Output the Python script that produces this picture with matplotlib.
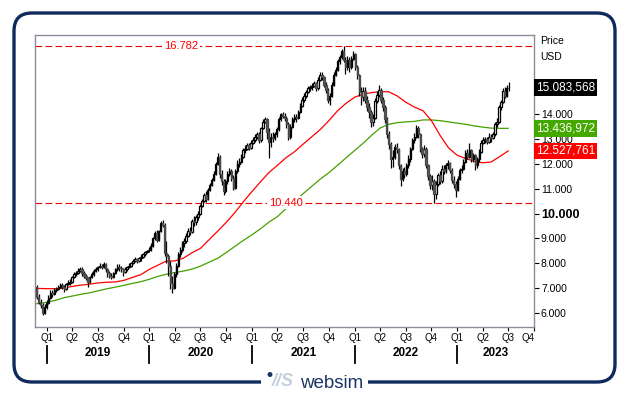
import matplotlib
matplotlib.use('Agg')
import matplotlib.pyplot as plt
import matplotlib.dates as mdates
import matplotlib.patches as patches
import matplotlib.transforms as mtransforms
import numpy as np
import pandas as pd

plt.rcParams['font.family'] = ['Liberation Sans', 'DejaVu Sans']

# weekly candles, open = previous close
first_week = '2018-11-26'
first_open = 7.05
closes = [
    6.65, 6.45, 6.30, 6.00, 6.25, 6.40, 6.60, 6.80, 6.75, 6.90, 6.95, 7.05, 7.10,
    7.05, 6.95, 7.15, 7.20, 7.25, 7.45, 7.55, 7.60, 7.70, 7.75, 7.60, 7.50, 7.40,
    7.25, 7.45, 7.55, 7.70, 7.75, 7.85, 7.90, 7.85, 7.95, 7.75, 7.60, 7.50, 7.45,
    7.60, 7.75, 7.85, 7.80, 7.75, 7.65, 7.75, 7.85, 7.90, 8.00, 8.10, 8.15, 8.10,
    8.20, 8.25, 8.35, 8.45, 8.50, 8.55, 8.70, 9.00, 9.20, 8.95, 9.30, 9.60, 9.55,
    8.40, 8.30, 7.90, 7.20, 7.00, 7.55, 7.90, 8.35, 8.55, 8.80, 8.90, 9.10, 9.30,
    9.25, 9.70, 9.65, 9.85, 10.00, 10.30, 10.50, 10.75, 10.60, 10.95, 11.15, 11.35, 11.60,
    12.00, 12.30, 11.60, 11.30, 10.90, 11.30, 11.60, 11.70, 11.45, 11.05, 11.70, 12.00, 12.10,
    12.30, 12.55, 12.60, 12.75, 12.65, 12.85, 12.95, 13.10, 13.20, 12.95, 13.45, 13.70, 13.80,
    13.30, 12.90, 13.10, 13.05, 13.20, 13.40, 13.80, 14.00, 13.95, 13.85, 13.60, 13.10, 13.50,
    13.80, 13.90, 13.85, 14.10, 14.35, 14.60, 14.75, 14.90, 15.05, 15.10, 15.15, 15.25, 15.05,
    15.40, 15.60, 15.50, 15.20, 15.00, 14.60, 14.75, 15.20, 15.60, 15.80, 16.15, 16.30, 16.55,
    16.20, 15.90, 16.20, 15.90, 16.25, 16.45, 15.90, 15.60, 14.90, 14.70, 14.95, 14.60, 14.30,
    14.10, 13.70, 13.85, 14.55, 14.80, 15.00, 14.60, 14.30, 13.80, 13.20, 12.80, 12.20, 12.30,
    12.70, 12.60, 11.95, 11.40, 11.70, 11.60, 11.95, 12.20, 12.60, 12.95, 13.10, 13.45, 13.20,
    12.60, 12.40, 12.60, 11.95, 11.50, 11.15, 11.30, 10.80, 11.20, 11.55, 11.30, 11.80, 11.70,
    11.95, 12.05, 11.75, 11.35, 11.20, 10.95, 11.40, 11.75, 11.80, 12.10, 12.45, 12.30, 12.55,
    12.20, 12.35, 11.95, 12.20, 12.50, 12.85, 12.95, 13.00, 12.90, 13.10, 13.05, 13.20, 13.60,
    13.70, 14.30, 14.50, 14.95, 14.75, 15.05, 15.08,
]
highs = [
    7.10, 6.75, 6.55, 6.40, 6.35, 6.50, 6.70, 6.90, 6.90, 7.00, 7.05, 7.10, 7.20,
    7.20, 7.10, 7.20, 7.30, 7.35, 7.50, 7.65, 7.70, 7.80, 7.85, 7.85, 7.70, 7.55,
    7.45, 7.50, 7.65, 7.75, 7.85, 7.90, 8.00, 7.95, 8.05, 8.00, 7.80, 7.70, 7.60,
    7.65, 7.80, 7.95, 7.95, 7.90, 7.80, 7.85, 7.90, 8.00, 8.05, 8.15, 8.25, 8.20,
    8.25, 8.35, 8.40, 8.50, 8.55, 8.65, 8.80, 9.05, 9.30, 9.35, 9.35, 9.70, 9.75,
    9.60, 8.90, 8.35, 8.10, 7.50, 7.65, 8.00, 8.45, 8.65, 8.90, 9.00, 9.20, 9.40,
    9.45, 9.80, 9.90, 9.95, 10.10, 10.40, 10.60, 10.85, 10.90, 11.05, 11.25, 11.45, 11.70,
    12.10, 12.43, 12.35, 11.75, 11.40, 11.40, 11.70, 11.85, 11.80, 11.55, 11.80, 12.15, 12.25,
    12.40, 12.65, 12.75, 12.85, 12.85, 12.95, 13.10, 13.20, 13.30, 13.30, 13.50, 13.80, 13.90,
    13.85, 13.45, 13.25, 13.30, 13.30, 13.50, 13.90, 14.05, 14.10, 14.05, 13.95, 13.70, 13.60,
    13.90, 14.00, 14.00, 14.20, 14.45, 14.70, 14.85, 15.00, 15.15, 15.20, 15.25, 15.35, 15.30,
    15.50, 15.70, 15.70, 15.55, 15.30, 15.05, 14.85, 15.30, 15.70, 15.90, 16.25, 16.40, 16.65,
    16.78, 16.30, 16.35, 16.30, 16.35, 16.55, 16.50, 16.00, 15.65, 15.10, 15.10, 15.10, 14.75,
    14.45, 14.20, 14.00, 14.65, 14.95, 15.20, 15.05, 14.70, 14.40, 13.90, 13.35, 12.90, 12.55,
    12.80, 12.85, 12.65, 12.00, 11.85, 11.90, 12.05, 12.35, 12.70, 13.05, 13.25, 13.57, 13.55,
    13.25, 12.70, 12.75, 12.70, 12.00, 11.60, 11.55, 11.40, 11.30, 11.65, 11.70, 11.95, 11.95,
    12.05, 12.15, 12.10, 11.85, 11.50, 11.30, 11.50, 11.85, 11.95, 12.20, 12.55, 12.60, 12.85,
    12.60, 12.45, 12.40, 12.30, 12.60, 12.95, 13.10, 13.10, 13.10, 13.25, 13.20, 13.30, 13.70,
    13.85, 14.40, 14.60, 15.05, 15.10, 15.20, 15.30,
]
lows = [
    6.55, 6.35, 6.20, 5.90, 5.95, 6.15, 6.35, 6.55, 6.65, 6.70, 6.85, 6.90, 7.00,
    6.95, 6.85, 6.90, 7.10, 7.10, 7.20, 7.40, 7.50, 7.55, 7.65, 7.50, 7.40, 7.30,
    7.05, 7.20, 7.40, 7.50, 7.65, 7.70, 7.80, 7.75, 7.80, 7.65, 7.45, 7.40, 7.35,
    7.40, 7.55, 7.70, 7.70, 7.65, 7.50, 7.60, 7.70, 7.80, 7.85, 7.95, 8.05, 8.00,
    8.05, 8.10, 8.20, 8.30, 8.40, 8.45, 8.50, 8.65, 8.95, 8.85, 8.90, 9.25, 9.45,
    8.30, 8.00, 7.50, 6.95, 6.78, 6.95, 7.45, 7.85, 8.25, 8.45, 8.65, 8.80, 9.05,
    9.15, 9.20, 9.50, 9.55, 9.75, 9.95, 10.25, 10.45, 10.45, 10.55, 10.90, 11.10, 11.30,
    11.55, 11.95, 11.45, 11.15, 10.75, 10.85, 11.20, 11.50, 11.30, 10.95, 11.00, 11.65, 11.90,
    12.05, 12.25, 12.45, 12.55, 12.55, 12.60, 12.80, 12.90, 13.00, 12.85, 12.90, 13.40, 13.65,
    13.00, 12.24, 12.70, 12.90, 12.95, 13.10, 13.35, 13.75, 13.85, 13.75, 13.45, 12.97, 13.00,
    13.45, 13.70, 13.70, 13.80, 14.05, 14.30, 14.50, 14.65, 14.85, 14.95, 15.00, 15.10, 14.95,
    15.00, 15.35, 15.40, 15.10, 14.85, 14.45, 14.38, 14.70, 15.15, 15.55, 15.75, 16.05, 16.25,
    16.10, 15.65, 15.80, 15.70, 15.85, 16.20, 15.80, 15.45, 14.75, 14.40, 14.55, 14.45, 14.15,
    13.85, 13.50, 13.55, 13.80, 14.45, 14.70, 14.45, 14.15, 13.65, 13.05, 12.60, 11.85, 11.90,
    12.20, 12.45, 11.80, 11.10, 11.30, 11.45, 11.50, 11.85, 12.10, 12.55, 12.85, 13.05, 13.05,
    12.50, 12.25, 12.30, 11.85, 11.35, 11.00, 10.95, 10.44, 10.60, 11.10, 11.20, 11.25, 11.60,
    11.65, 11.80, 11.65, 11.25, 11.05, 10.67, 10.90, 11.35, 11.65, 11.75, 12.05, 12.20, 12.25,
    12.10, 12.10, 11.76, 11.85, 12.10, 12.45, 12.80, 12.85, 12.80, 12.85, 12.90, 13.00, 13.15,
    13.50, 13.65, 14.20, 14.45, 14.65, 14.70, 14.95,
]

# moving averages read at month starts
ma_start = '2018-11-01'
ma_red = [
    6.98, 6.98, 6.97, 6.97, 6.99, 7.06, 7.11, 7.15, 7.20, 7.23, 7.24, 7.30, 7.42, 7.53,
    7.75, 7.92, 8.08, 8.09, 8.20, 8.42, 8.60, 8.95, 9.30, 9.65, 10.05, 10.48,
    10.90, 11.30, 11.65, 11.95, 12.25, 12.50, 12.80, 13.10, 13.40, 13.75, 14.15, 14.45,
    14.70, 14.82, 14.88, 14.92, 14.92, 14.75, 14.50, 14.30, 14.15, 13.75, 13.15, 12.65,
    12.35, 12.22, 12.12, 12.05, 12.08, 12.30, 12.53,
]
ma_green = [
    6.33, 6.37, 6.42, 6.50, 6.60, 6.67, 6.74, 6.80, 6.88, 6.96, 7.03, 7.10, 7.18, 7.25,
    7.35, 7.47, 7.55, 7.62, 7.68, 7.76, 7.88, 8.04, 8.20, 8.43, 8.68, 8.92,
    9.15, 9.40, 9.65, 9.88, 10.20, 10.50, 10.80, 11.10, 11.40, 11.65, 11.95, 12.25,
    12.55, 12.85, 13.15, 13.45, 13.60, 13.67, 13.70, 13.72, 13.78, 13.78, 13.75, 13.70,
    13.65, 13.60, 13.54, 13.49, 13.45, 13.44, 13.44,
]

max_level = 16.782
min_level = 10.440
last_price = 15.083568
last_red = 12.527761
last_green = 13.436972
y_ticks = [6, 7, 8, 9, 10, 11, 12, 13, 14]
years = [2019, 2020, 2021, 2022, 2023]

W, H = 629, 395
fig = plt.figure(figsize=(W / 100, H / 100), dpi=100)
fig.patch.set_facecolor('white')

def fx(x):
    return x / W

def fy(y):
    return 1 - y / H

ax = fig.add_axes([fx(35), fy(327), fx(534) - fx(35), fy(35) - fy(327)])

dates = mdates.date2num(pd.date_range(first_week, periods=len(closes), freq='7D'))
c = np.array(closes)
o = np.concatenate([[first_open], c[:-1]])
hi = np.maximum(np.array(highs), np.maximum(o, c))
lo = np.minimum(np.array(lows), np.minimum(o, c))
up = c >= o

ma_dates = mdates.date2num(pd.date_range(ma_start, periods=len(ma_red), freq='MS'))
ax.plot(ma_dates, ma_green, color='#44a000', lw=0.9, zorder=1.5)
ax.plot(ma_dates, ma_red, color='#ff0000', lw=0.9, zorder=1.6)

ax.vlines(dates, lo, hi, color='black', lw=0.9, zorder=2)
body_w = 5.0
ax.bar(dates[up], (c - o)[up], bottom=o[up], width=body_w, color='white',
       edgecolor='black', linewidth=0.9, zorder=3)
ax.bar(dates[~up], (o - c)[~up], bottom=c[~up], width=body_w, color='#5a5a5a',
       edgecolor='#4a4a4a', linewidth=0.9, zorder=3)

for lvl, lbl_date in [(max_level, '2020-04-22'), (min_level, '2021-05-01')]:
    ax.axhline(lvl, color='#e60000', lw=0.8, dashes=(6, 3), zorder=1)
    ax.text(mdates.date2num(pd.Timestamp(lbl_date)), lvl, f'{lvl:.3f}', color='#ff0000',
            fontsize=8, ha='center', va='center', zorder=4,
            bbox=dict(boxstyle='square,pad=0.15', fc='white', ec='none'))

x_left = mdates.date2num(pd.Timestamp('2018-11-20'))
x_right = mdates.date2num(pd.Timestamp('2023-10-01'))
ax.set_xlim(x_left, x_right)
ax.set_ylim(5.423, 17.207)

for s in ax.spines.values():
    s.set_color('#8c8c9a')
    s.set_linewidth(1.0)

# right price axis
ax.yaxis.tick_right()
ax.set_yticks(y_ticks)
ax.set_yticklabels([f'{v}.000' for v in y_ticks])
ax.tick_params(axis='y', length=3.5, width=0.8, pad=1.5, labelsize=7.5, colors='black')
for t in ax.get_yticklabels():
    if t.get_text() == '10.000':
        t.set_fontweight('bold')
        t.set_fontsize(9)

# quarter ticks
q_dates = pd.date_range('2019-01-01', '2023-10-01', freq='QS')
ax.set_xticks(mdates.date2num(q_dates))
ax.set_xticklabels([f'Q{d.quarter}' for d in q_dates])
ax.tick_params(axis='x', length=3, width=0.8, pad=1.5, labelsize=7, colors='black')
ax.get_xticklabels()[-1].set_horizontalalignment('right')

trans = mtransforms.blended_transform_factory(ax.transData, ax.transAxes)
for yr in years:
    x0 = mdates.date2num(pd.Timestamp(f'{yr}-01-01'))
    x1 = min(mdates.date2num(pd.Timestamp(f'{yr + 1}-01-01')), x_right)
    ax.plot([x0, x0], [-0.065, -0.123], color='black', lw=1.3, transform=trans, clip_on=False)
    ax.text((x0 + x1) / 2, -0.089, str(yr), transform=trans, ha='center', va='center',
            fontsize=8.5, fontweight='bold', color='black')

# value boxes on the right
ytrans = mtransforms.blended_transform_factory(ax.transAxes, ax.transData)
for val, txt, col in [(last_price, '15.083,568', 'black'), (last_green, '13.436,972', '#44a800'),
                      (last_red, '12.527,761', '#ff0000')]:
    ax.text(1.004, val, txt, transform=ytrans, ha='left', va='center', fontsize=8.5,
            color='white', zorder=5, clip_on=False,
            bbox=dict(boxstyle='square,pad=0.18', fc=col, ec='none'))

fig.text(fx(540), fy(41), 'Price', fontsize=7.5, ha='left', va='center')
fig.text(fx(540), fy(57), 'USD', fontsize=7.5, ha='left', va='center')

# rounded frame and logo
frame = patches.FancyBboxPatch((fx(14), fy(382)), fx(615) - fx(14), fy(13) - fy(382),
                               boxstyle=f'round,pad=0,rounding_size={18 / W}',
                               mutation_aspect=W / H, transform=fig.transFigure,
                               fill=False, ec='#0f2a5c', lw=2.4, zorder=1)
fig.patches.append(frame)
gap = patches.Rectangle((fx(261), fy(388)), fx(368) - fx(261), fy(374) - fy(388),
                        transform=fig.transFigure, fc='white', ec='none', zorder=2)
fig.patches.append(gap)
dot = patches.Ellipse((fx(270), fy(374.5)), 5 / W, 5 / H, transform=fig.transFigure,
                      fc='#1b3565', ec='none', zorder=3)
fig.patches.append(dot)
fig.text(fx(272), fy(382), '//S', fontsize=13, fontstyle='italic', fontweight='bold',
         color='#c5d0df', ha='left', va='center', zorder=3)
fig.text(fx(300), fy(383), 'websim', fontsize=13.5, color='#1b3565', ha='left',
         va='center', zorder=3)

fig.savefig('out.png', dpi=100)
